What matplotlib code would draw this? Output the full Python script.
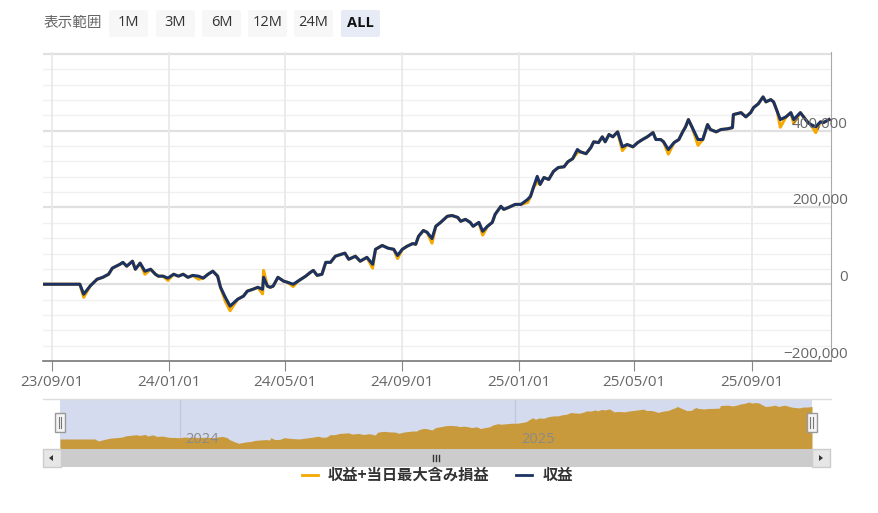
import matplotlib
matplotlib.use("Agg")
import matplotlib.pyplot as plt
import matplotlib.dates as mdates
from matplotlib.patches import Rectangle, FancyBboxPatch, Polygon
from matplotlib.lines import Line2D
from matplotlib.transforms import offset_copy
import numpy as np
import pandas as pd

plt.rcParams['font.family'] = ['Open Sans', 'Noto Sans CJK JP', 'DejaVu Sans']
CJK = ['Noto Sans CJK JP', 'DejaVu Sans']

#==============================================================================
# data : days from 2023-09-01 , profit in thousand yen
start = pd.Timestamp("2023-09-01")
days = [-9, 29, 33, 40, 47, 53, 59, 63, 71, 74,
        78, 84, 87, 92, 97, 103, 108, 111, 116, 121,
        127, 132, 137, 142, 147, 153, 158, 163, 168, 173,
        176, 181, 186, 194, 200, 204, 210, 215, 220, 221,
        225, 228, 231, 236, 242, 246, 252, 257, 265, 270,
        273, 277, 282, 286, 291, 296, 306, 310, 317, 322,
        329, 335, 338, 345, 351, 357, 361, 366, 371, 377,
        380, 383, 388, 392, 397, 401, 406, 413, 418, 424,
        427, 432, 437, 440, 446, 450, 455, 460, 463, 469,
        472, 477, 484, 490, 497, 500, 503, 507, 510, 514,
        519, 524, 529, 535, 539, 544, 549, 552, 558, 563,
        566, 571, 575, 578, 582, 586, 591, 596, 601, 607,
        612, 617, 622, 628, 631, 636, 639, 644, 650, 655,
        659, 662, 665, 669, 675, 680, 685, 688, 694, 699,
        706, 711, 712, 720, 725, 730, 733, 738, 743, 746,
        751, 754, 758, 761, 767, 772, 775, 782, 786, 790,
        793, 798, 803, 806, 812]
profit_k = [0, 0, -26, -4, 13, 18, 26, 42, 52, 57,
            47, 60, 39, 55, 34, 39, 26, 21, 21, 16,
            26, 21, 26, 18, 23, 21, 16, 26, 34, 21,
            -8, -34, -57, -39, -31, -18, -13, -8, -13, 18,
            -5, -8, -5, 18, 8, 5, 0, 8, 21, 31,
            36, 23, 26, 57, 57, 73, 81, 65, 73, 60,
            70, 52, 91, 101, 94, 91, 75, 91, 99, 106,
            104, 125, 140, 135, 119, 151, 161, 177, 179, 174,
            164, 169, 161, 151, 161, 138, 151, 161, 182, 203,
            195, 200, 208, 208, 221, 229, 252, 281, 260, 278,
            273, 294, 304, 306, 319, 327, 351, 345, 340, 356,
            371, 369, 384, 371, 390, 384, 397, 358, 364, 358,
            369, 377, 384, 395, 377, 377, 371, 351, 369, 377,
            397, 410, 429, 408, 377, 377, 416, 403, 397, 403,
            405, 408, 442, 447, 436, 447, 460, 470, 488, 475,
            481, 475, 449, 429, 436, 447, 429, 447, 434, 421,
            416, 410, 423, 421, 429]
# 当日最大含み損益 (only days where it differs from 0)
dip_days = [33, 97, 121, 153, 181, 186, 220, 221, 252, 335, 361, 397,
            450, 497, 507, 549, 596, 644, 675, 761, 775, 798]
dip_k = [-8, -8, -6, -8, -10, -12, -12, 18, -6, -10, -8, -12,
         -10, -8, -15, -8, -10, -12, -15, -20, -10, -15]

x_ticks = ["2023-09-01", "2024-01-01", "2024-05-01", "2024-09-01",
           "2025-01-01", "2025-05-01", "2025-09-01"]
y_ticks = [-200000, 0, 200000, 400000]
y_labels = ["−200,000", "0", "200,000", "400,000"]
buttons = ["1M", "3M", "6M", "12M", "24M", "ALL"]
legend_labels = ["収益+当日最大含み損益", "収益"]

#==============================================================================
dates = [start + pd.Timedelta(days=d) for d in days]
profit = np.array(profit_k) * 1000.0
unreal = np.zeros(len(days))
for d, v in zip(dip_days, dip_k):
    unreal[days.index(d)] = v * 1000.0
with_unreal = profit + unreal

W, H = 879, 513
def fx(x):
    return x / W
def fy(y):
    return 1 - y / H

ORANGE = "#f5a800"
NAVY = "#1b3262"
GRID = "#e9e9e9"

fig = plt.figure(figsize=(8.79, 5.13), dpi=100)
fig.patch.set_facecolor("white")

# main chart
ax = fig.add_axes([fx(43), fy(361), fx(831) - fx(43), fy(52) - fy(361)])
x0 = start + pd.Timedelta(days=-9.5)
x1 = start + pd.Timedelta(days=814)
ax.set_xlim(x0, x1)
ax.set_ylim(-200000, 605000)
for v in np.arange(-160000, 600001, 40000):
    if v % 200000 == 0:
        ax.axhline(v, color="#e0e0e0", lw=1.6, zorder=0)
    else:
        ax.axhline(v, color="#f0f0f0", lw=1.0, zorder=0)
for t in x_ticks:
    ax.axvline(pd.Timestamp(t), color=GRID, lw=1.3, zorder=0)

ax.plot(dates, with_unreal, color=ORANGE, lw=2.2, zorder=2)
ax.plot(dates, profit, color=NAVY, lw=2.2, zorder=3)

ax.set_xticks([pd.Timestamp(t) for t in x_ticks])
ax.xaxis.set_major_formatter(mdates.DateFormatter("%y/%m/%d"))
ax.tick_params(axis="x", length=7, color="#888888", labelcolor="#666666",
               labelsize=11, pad=3)
ax.set_yticks([])
for sp in ["top", "left"]:
    ax.spines[sp].set_visible(False)
ax.spines["bottom"].set_color("#777777")
ax.spines["right"].set_color("#aaaaaa")
ax.spines["bottom"].set_linewidth(1.2)

ytrans = offset_copy(ax.get_yaxis_transform(), fig=fig, x=17 * 0.72, y=-1 * 0.72, units="points")
for v, lab in zip(y_ticks, y_labels):
    ax.text(1, v, lab, transform=ytrans, ha="right", va="bottom",
            color="#666666", fontsize=11, zorder=5, clip_on=False)

# range selector
fig.text(fx(44), fy(23), "表示範囲", color="#666666", fontsize=10.5, va="center",
         family=CJK)
bx = [109, 156, 202, 248, 294, 341]
for i, (b, lab) in enumerate(zip(bx, buttons)):
    sel = lab == "ALL"
    fig.add_artist(FancyBboxPatch((fx(b), fy(37)), fx(39), fy(10) - fy(37),
                                  boxstyle="round,pad=0,rounding_size=0.003",
                                  transform=fig.transFigure,
                                  fc="#e6ebf5" if sel else "#f7f7f7", ec="none"))
    fig.text(fx(b + 19.5), fy(23), lab, ha="center", va="center", fontsize=10.5,
             color="#111111" if sel else "#333333",
             fontweight="bold" if sel else "normal")

# navigator
fig.add_artist(Line2D([fx(43), fx(831)], [fy(399), fy(399)], color="#dddddd",
                      lw=1, transform=fig.transFigure))
nav = fig.add_axes([fx(60), fy(448), fx(812) - fx(60), fy(400) - fy(448)])
nav.set_facecolor("#d5dbee")
nav.set_xlim(dates[0], dates[-1])
nav.set_ylim(-119000, 515000)
nav.fill_between(dates, profit, -200000, color="#c99a3c", lw=0, zorder=2)
for t, lab in [("2024-01-01", "2024"), ("2025-01-01", "2025")]:
    nav.axvline(pd.Timestamp(t), color="#c2c8dc", lw=1, zorder=1)
    nav.text(pd.Timestamp(t), -119000, lab, color="#8a8a8a", fontsize=10.5,
             va="bottom", ha="left", zorder=3,
             transform=offset_copy(nav.transData, fig=fig, x=4, y=1, units="points"))
nav.set_xticks([])
nav.set_yticks([])
for sp in nav.spines.values():
    sp.set_visible(False)

for hx in [60, 812]:
    fig.add_artist(Rectangle((fx(hx - 5), fy(432)), fx(10), fy(413) - fy(432),
                             transform=fig.transFigure, fc="#f4f4f4", ec="#999999", lw=1))
    for dx in [-1.5, 1.5]:
        fig.add_artist(Line2D([fx(hx + dx), fx(hx + dx)], [fy(417), fy(428)],
                              color="#777777", lw=0.8, transform=fig.transFigure))

# scrollbar
fig.add_artist(Rectangle((fx(43), fy(467)), fx(788), fy(449) - fy(467),
                         transform=fig.transFigure, fc="#cccccc", ec="none"))
for bx0 in [43, 812]:
    fig.add_artist(Rectangle((fx(bx0), fy(467)), fx(18), fy(449) - fy(467),
                             transform=fig.transFigure, fc="#e6e6e6", ec="#cccccc", lw=1))
fig.add_artist(Polygon([[fx(49), fy(458)], [fx(53), fy(455)], [fx(53), fy(461)]],
                       closed=True, transform=fig.transFigure, fc="#333333", ec="none"))
fig.add_artist(Polygon([[fx(823), fy(458)], [fx(819), fy(455)], [fx(819), fy(461)]],
                       closed=True, transform=fig.transFigure, fc="#333333", ec="none"))
for gx in [433, 436, 439]:
    fig.add_artist(Line2D([fx(gx), fx(gx)], [fy(455), fy(461)], color="#333333",
                          lw=1, transform=fig.transFigure))

# legend
for (lx, tx), col, lab in zip([(302, 328), (516, 543)], [ORANGE, NAVY], legend_labels):
    fig.add_artist(Line2D([fx(lx), fx(lx + 16)], [fy(475), fy(475)], color=col,
                          lw=2, transform=fig.transFigure))
    fig.text(fx(tx), fy(475), lab, fontsize=11, fontweight="bold", color="#333333",
             va="center", ha="left", family=CJK)

plt.savefig("out.png", dpi=100)
